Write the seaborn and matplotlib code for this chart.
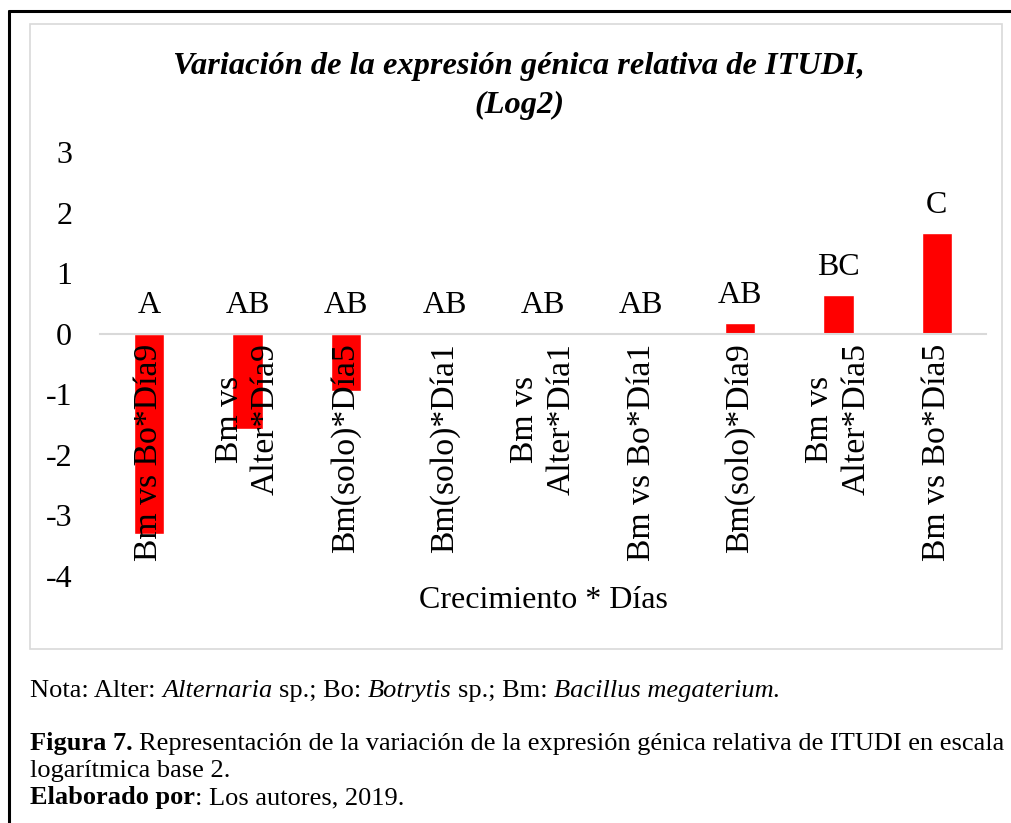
import numpy as np
import pandas as pd
import matplotlib
matplotlib.use("Agg")
import matplotlib.pyplot as plt
import seaborn as sns
from matplotlib.patches import Rectangle
from matplotlib.lines import Line2D

# data
categorias = ["Bm vs Bo*Día9", "Bm vs\nAlter*Día9", "Bm(solo)*Día5", "Bm(solo)*Día1",
              "Bm vs\nAlter*Día1", "Bm vs Bo*Día1", "Bm(solo)*Día9", "Bm vs\nAlter*Día5",
              "Bm vs Bo*Día5"]
valores = [-3.30, -1.58, -0.94, 0.0, 0.0, 0.0, 0.17, 0.64, 1.66]
letras = ["A", "AB", "AB", "AB", "AB", "AB", "AB", "BC", "C"]
yticks = [-4, -3, -2, -1, 0, 1, 2, 3]

df = pd.DataFrame({"cat": categorias, "val": valores})

sns.set_style("white")
plt.rcParams["font.family"] = ["Liberation Serif", "DejaVu Serif"]
plt.rcParams.update({"text.color": "black", "xtick.color": "black",
                     "ytick.color": "black", "axes.labelcolor": "black"})

W, H = 1011, 823
fig = plt.figure(figsize=(W / 100, H / 100), dpi=100)
ax = fig.add_axes([100 / W, (H - 576) / H, 886 / W, 424 / H])

sns.barplot(data=df, x="cat", y="val", color="#ff0000", saturation=1,
            width=0.31, ax=ax)

# x axis sits on zero (set before styling the ticks, it resets them)
for s in ["top", "right", "left"]:
    ax.spines[s].set_visible(False)
ax.spines["bottom"].set_position(("data", 0))
ax.spines["bottom"].set_color("#d9d9d9")
ax.spines["bottom"].set_linewidth(1.5)
ax.set_axisbelow(False)  # category labels are written over the bars

ax.set_xlim(-0.5, len(categorias) - 0.5)
ax.set_ylim(-4, 3)
ax.set_yticks(yticks)
ax.set_yticklabels([str(v) for v in yticks], fontsize=23)
ax.tick_params(axis="y", length=0, pad=20)
ax.tick_params(axis="x", length=0, pad=7)
ax.set_xticks(range(len(categorias)))
ax.set_xticklabels(categorias, rotation=90, fontsize=24.3, va="top", ha="center",
                   multialignment="center", linespacing=1.25)
ax.set_ylabel("")

# letters of significance
for i, (v, l) in enumerate(zip(valores, letras)):
    ax.annotate(l, (i, max(v, 0)), xytext=(0, 20), textcoords="offset points",
                ha="center", va="center", fontsize=23)

ax.set_xlabel("Crecimiento * Días", fontsize=23)
ax.xaxis.set_label_coords(0.5, -0.057)
ax.xaxis.label.set_va("center")

fig.text(519 / W, (H - 86) / H,
         "Variación de la expresión génica relativa de ITUDI,\n(Log2)",
         ha="center", va="center", fontsize=23.3, fontweight="bold",
         fontstyle="italic", linespacing=1.43)

# frames
fig.add_artist(Rectangle((29.5 / W, (H - 649) / H), (1002 - 29.5) / W, (649 - 23.5) / H,
                         transform=fig.transFigure, fill=False, edgecolor="#d9d9d9", lw=1.2))
fig.add_artist(Line2D([8.7 / W, 1.01], [(H - 11.3) / H] * 2, transform=fig.transFigure,
                      color="black", lw=2.2))
fig.add_artist(Line2D([8.7 / W] * 2, [-0.01, (H - 11.3) / H], transform=fig.transFigure,
                      color="black", lw=2.2))

# footer text with mixed styles
renderer = fig.canvas.get_renderer()


def width_of(s, **kw):
    t = fig.text(0, 0, s, **kw)
    w = t.get_window_extent(renderer).width
    t.remove()
    return w


def rich(x, y, parts, size):
    for txt, style, weight in parts:
        kw = dict(fontsize=size, fontstyle=style, fontweight=weight)
        lead = len(txt) - len(txt.lstrip(" "))
        if lead:
            sp = width_of("x x", **kw) - width_of("xx", **kw)
            x += lead * sp
        t = fig.text(x / W, (H - y) / H, txt.strip(" "), va="baseline", **kw)
        x += t.get_window_extent(renderer).width


fs = 19
rich(30, 697, [("Nota: Alter:", "normal", "normal"), (" Alternaria", "italic", "normal"),
               (" sp.; Bo:", "normal", "normal"), (" Botrytis", "italic", "normal"),
               (" sp.; Bm:", "normal", "normal"), (" Bacillus megaterium.", "italic", "normal")], fs)
rich(30, 750, [("Figura 7.", "normal", "bold"),
               (" Representación de la variación de la expresión génica relativa de ITUDI en escala",
                "normal", "normal")], fs)
rich(30, 777, [("logarítmica base 2.", "normal", "normal")], fs)
rich(30, 804, [("Elaborado por", "normal", "bold"), (": Los autores, 2019.", "normal", "normal")], fs)

fig.savefig("out.png", dpi=100)
